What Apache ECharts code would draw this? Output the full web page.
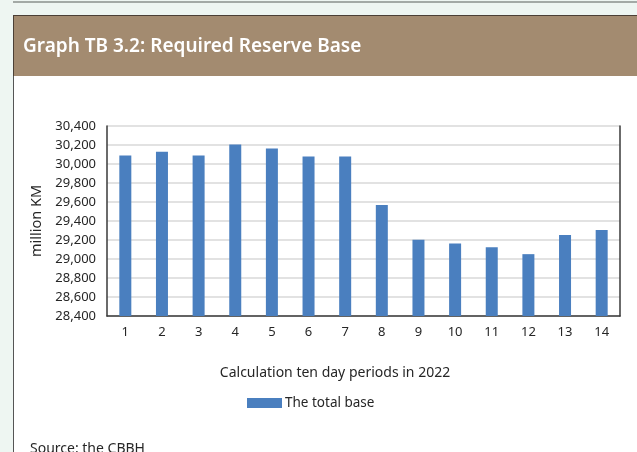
<!DOCTYPE html>
<html>
<head>
<meta charset="utf-8">
<script src="https://cdn.jsdelivr.net/npm/echarts@6/dist/echarts.min.js"></script>
<style>
  html, body { margin: 0; padding: 0; width: 637px; height: 452px; overflow: hidden; background: #eef6f2; }
  #topline { position: absolute; left: 13px; top: 1px; width: 624px; height: 2px; background: #a3aaa6; }
  #header { position: absolute; left: 13px; top: 15px; width: 624px; height: 61px; background: #a38b70; border-top: 1px solid #4b4036; border-left: 1px solid #4b4036; box-sizing: border-box; }
  #content { position: absolute; left: 13px; top: 76px; width: 624px; height: 376px; background: #ffffff; border-left: 1px solid #555; box-sizing: border-box; }
  #chart { position: absolute; left: 0; top: 0; width: 637px; height: 452px; }
</style>
</head>
<body>
<div id="topline"></div>
<div id="header"></div>
<div id="content"></div>
<div id="chart"></div>
<script>
const categories = ['1','2','3','4','5','6','7','8','9','10','11','12','13','14'];
const totalBase = [30090, 30129, 30090, 30206, 30164, 30080, 30080, 29569, 29203, 29164, 29125, 29051, 29252, 29305];
const seriesName = 'The total base';
const titleText = 'Graph TB 3.2: Required Reserve Base';
const xAxisName = 'Calculation ten day periods in 2022';
const yAxisName = 'million KM';
const sourceText = 'Source: the CBBH';

const FONT = '"Noto Sans", "Open Sans", sans-serif';
const chart = echarts.init(document.getElementById('chart'), null, { renderer: 'canvas' });
chart.setOption({
  backgroundColor: 'transparent',
  animation: false,
  textStyle: { fontFamily: FONT },
  title: [
    { text: titleText, left: 18, top: 32, textStyle: { color: '#ffffff', fontSize: 19, fontWeight: 600, fontFamily: FONT } },
    { text: xAxisName, left: 330, textAlign: 'center', top: 361, textStyle: { color: '#262626', fontSize: 14, fontWeight: 'normal', fontFamily: FONT } },
    { text: sourceText, left: 25, top: 437, textStyle: { color: '#262626', fontSize: 14, fontWeight: 'normal', fontFamily: FONT } }
  ],
  legend: {
    data: [seriesName],
    left: 242, top: 391,
    icon: 'rect', itemWidth: 35, itemHeight: 10, itemGap: 10,
    textStyle: { color: '#262626', fontSize: 13.5, fontFamily: FONT, padding: [0, 0, 0, -2] }
  },
  grid: { left: 107, right: 17, top: 126, bottom: 136, containLabel: false },
  xAxis: {
    type: 'category',
    data: categories,
    axisLine: { show: true, lineStyle: { color: '#3a3a3a', width: 1.5 } },
    axisTick: { show: false },
    axisLabel: { color: '#262626', fontSize: 13, margin: 10, fontFamily: FONT },
    splitLine: { show: false }
  },
  yAxis: [
    {
      type: 'value',
      min: 28400, max: 30400, interval: 200,
      name: yAxisName, nameLocation: 'middle', nameGap: 60,
      nameTextStyle: { color: '#262626', fontSize: 14.5, fontFamily: FONT },
      axisLine: { show: true, lineStyle: { color: '#3a3a3a', width: 1.5 } },
      axisTick: { show: false },
      axisLabel: {
        color: '#262626', fontSize: 13, margin: 11, fontFamily: FONT,
        formatter: v => v.toLocaleString('en-US')
      },
      splitLine: { show: true, lineStyle: { color: '#d9d9d9', width: 1.5 } }
    },
    {
      type: 'value',
      position: 'right',
      min: 28400, max: 30400, interval: 200,
      axisLine: { show: true, lineStyle: { color: '#3a3a3a', width: 1.5 } },
      axisTick: { show: false },
      axisLabel: { show: false },
      splitLine: { show: false }
    }
  ],
  series: [
    {
      name: seriesName,
      type: 'bar',
      data: totalBase,
      barWidth: 12,
      itemStyle: { color: '#4a7fbf' }
    }
  ]
});
</script>
</body>
</html>
